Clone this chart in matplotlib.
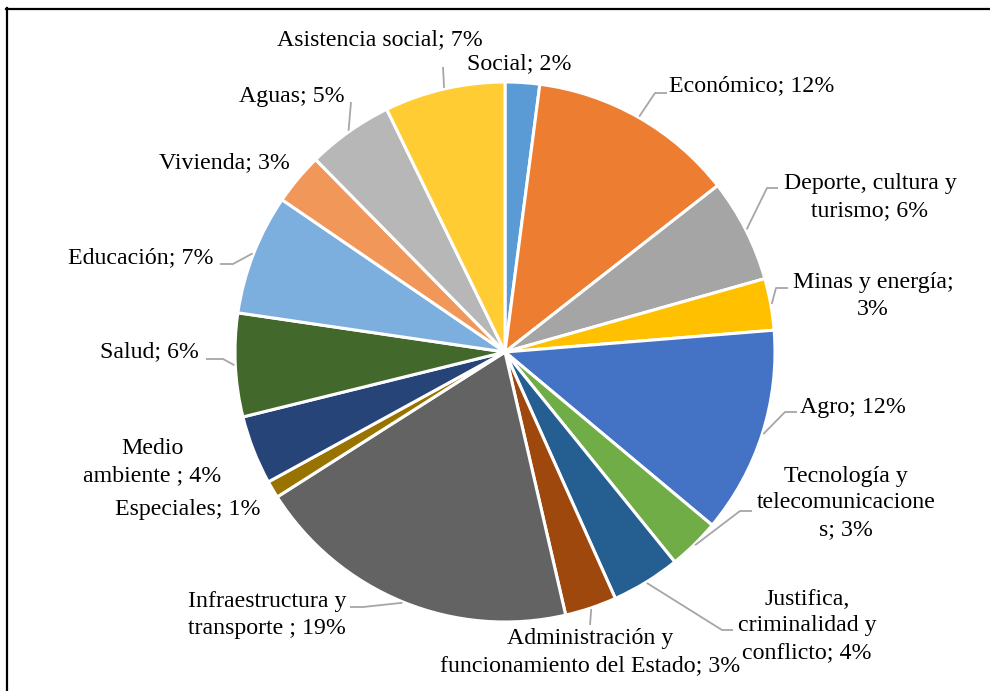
import numpy as np
import matplotlib.pyplot as plt

# sector shares (%), clockwise from 12 o'clock
sectors = ["Social", "Económico", "Deporte, cultura y\nturismo", "Minas y energía;\n",
           "Agro", "Tecnología y\ntelecomunicacione\ns", "Justifica,\ncriminalidad y\nconflicto",
           "Administración y\nfuncionamiento del Estado", "Infraestructura y\ntransporte ",
           "Especiales", "Medio\nambiente ", "Salud", "Educación", "Vivienda", "Aguas",
           "Asistencia social"]
shares = [2, 12, 6, 3, 12, 3, 4, 3, 19, 1, 4, 6, 7, 3, 5, 7]
colors = ["#5B9BD5", "#ED7D31", "#A5A5A5", "#FFC000", "#4472C4", "#70AD47", "#255E91",
          "#9E480E", "#636363", "#997300", "#264478", "#43682B", "#7CAFDD", "#F1975A",
          "#B7B7B7", "#FFCD33"]

W, H = 990, 691
CX, CY, R = 505, 352, 270


def px(x, y):
    # pixel position (origin top-left) -> data coords
    return x, H - y


# label centre and leader elbow / stub end, in pixels
label_pos = [(519, 64), (752, 86), (870, 197), (873, 296), (853, 407), (846, 503),
             (807, 626), (590, 652), (267, 615), (188, 510), (152, 462), (149, 352),
             (141, 258), (224, 163), (292, 96), (380, 40)]
leaders = {1: [(655, 93), (667, 93)], 2: [(767, 188), (778, 188)],
           3: [(776, 288), (788, 288)], 4: [(785, 412), (797, 412)],
           5: [(740, 511), (752, 511)], 6: [(722, 630), (733, 630)],
           7: [(590, 625)], 8: [(363, 607), (350, 607)],
           11: [(223, 359), (206, 359)], 12: [(233, 264), (220, 264)],
           14: [(351, 102)], 15: [(443, 67)]}

fig = plt.figure(figsize=(W / 100, H / 100), dpi=100)
ax = fig.add_axes([0, 0, 1, 1])

wedges, _ = ax.pie(shares, colors=colors, startangle=90, counterclock=False,
                   center=px(CX, CY), radius=R,
                   wedgeprops=dict(edgecolor="white", linewidth=2.2))

for i, (name, val) in enumerate(zip(sectors, shares)):
    if name.endswith("\n"):
        text = f"{name}{val}%"
    else:
        text = f"{name}; {val}%"
    x, y = px(*label_pos[i])
    ax.text(x, y, text, ha="center", va="center", fontsize=17.2,
            family="Liberation Serif", linespacing=1.36)

    if i in leaders:
        w = wedges[i]
        ang = np.deg2rad((w.theta1 + w.theta2) / 2)
        sx = CX + (R + 1) * np.cos(ang)
        sy = CY - (R + 1) * np.sin(ang)
        pts = [(sx, sy)] + leaders[i]
        xs = [p[0] for p in pts]
        ys = [H - p[1] for p in pts]
        ax.plot(xs, ys, color="#A6A6A6", lw=1.3, solid_capstyle="butt")

# outer frame
ax.plot([6, W], [H - 8.5, H - 8.5], color="black", lw=1.6)
ax.plot([6.5, 6.5], [0, H - 8], color="black", lw=1.6)

ax.set_xlim(0, W)
ax.set_ylim(0, H)
ax.set_aspect("equal")
ax.axis("off")

fig.savefig("out.png", dpi=100)
